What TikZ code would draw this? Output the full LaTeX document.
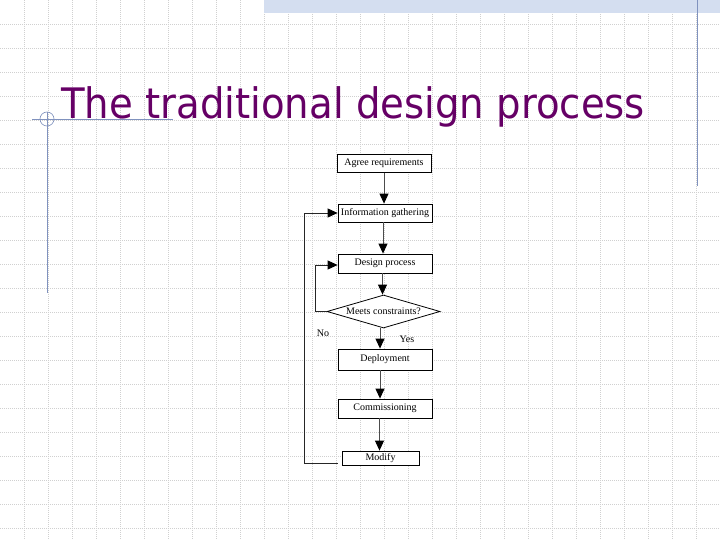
\documentclass[tikz,border=0pt]{standalone}
\usepackage{fontspec}
\setmainfont{Liberation Serif}
\newfontfamily\titlefont[FakeStretch=0.92]{DejaVu Sans}
\usetikzlibrary{shapes.geometric,arrows.meta,calc}
\definecolor{titlepurple}{RGB}{102,0,102}
\definecolor{decoblue}{RGB}{128,146,190}
\definecolor{bandblue}{RGB}{212,222,240}
\definecolor{gridgray}{RGB}{208,208,208}
\tikzset{
  flowbox/.style={draw=black, line width=0.8pt, fill=white, minimum width=94pt, inner sep=0pt, font=\fontsize{10}{11}\selectfont},
  decision/.style={draw=black, line width=0.8pt, fill=white, shape=diamond, aspect=3.4, minimum width=113pt, minimum height=33pt, inner sep=0pt, font=\fontsize{10}{11}\selectfont},
  flowarrow/.style={draw=black!70, line width=0.9pt, -{Triangle[length=10pt,width=9pt,color=black]}},
  loopline/.style={draw=black!85, line width=0.8pt, -{Triangle[length=10pt,width=9pt,color=black]}},
  gridline/.style={draw=gridgray, line width=0.4pt, dash pattern=on 1pt off 1pt},
  deco/.style={draw=decoblue, line width=0.8pt},
  lbl/.style={font=\fontsize{10}{11}\selectfont, inner sep=0pt}
}
\begin{document}
\begin{tikzpicture}[x=1pt,y=-1pt]
\useasboundingbox (0,0) rectangle (720,540);
\fill[white] (0,0) rectangle (720,540);
% grid
\foreach \i in {1,...,29} \draw[gridline] (24*\i,0) -- (24*\i,540);
\foreach \j in {1,...,22} \draw[gridline] (0,24*\j) -- (720,24*\j);
% top band
\fill[bandblue] (264,0) rectangle (720,13);
% decorations
\draw[deco] (697,0) -- (697,186);
\draw[deco] (32,119) -- (173,119);
\draw[deco] (47,112) -- (47,293);
\draw[deco, line width=0.6pt] (47,119) circle (7);
% title
\node[anchor=base west, inner sep=0pt, text=titlepurple, font=\titlefont\fontsize{42}{46}\selectfont] (title) at (61,119) {The traditional design process};
% flowchart
\node[flowbox, minimum height=17.5pt] (agree) at (384,163.5) {Agree requirements};
\node[flowbox, minimum height=18pt] (info) at (385,213) {Information gathering};
\node[flowbox, minimum height=19pt] (design) at (385,263.5) {Design process};
\node[decision] (meets) at (383.5,311.5) {Meets constraints?};
\node[flowbox, minimum height=21pt] (deploy) at (385,359.5) {Deployment};
\node[flowbox, minimum height=19pt] (comm) at (385,408.5) {Commissioning};
\node[flowbox, minimum width=77pt, minimum height=14pt] (modify) at (380.5,458) {Modify};
\node[lbl] (no) at (323,333) {No};
\node[lbl] (yes) at (407,339) {Yes};
% arrows
\draw[flowarrow] (agree.south) -- (agree.south |- info.north);
\draw[flowarrow] (info.south -| 383,0) -- (design.north -| 383,0);
\draw[flowarrow] (design.south -| 382.5,0) -- (meets.north -| 382.5,0);
\draw[flowarrow] (meets.south -| 380,0) -- (deploy.north -| 380,0);
\draw[flowarrow] (deploy.south -| 380,0) -- (comm.north -| 380,0);
\draw[flowarrow] (comm.south -| 379.5,0) -- (modify.north -| 379.5,0);
% loops
\draw[loopline] (meets.west) -- ++(-11,0) |- ($(design.west)+(0,1.5)$);
\coordinate (mstart) at ($(modify.south west)+(-4,-2)$);
\draw[loopline] (mstart) -- ++(-33,0) |- (info.west);
\end{tikzpicture}
\end{document}
